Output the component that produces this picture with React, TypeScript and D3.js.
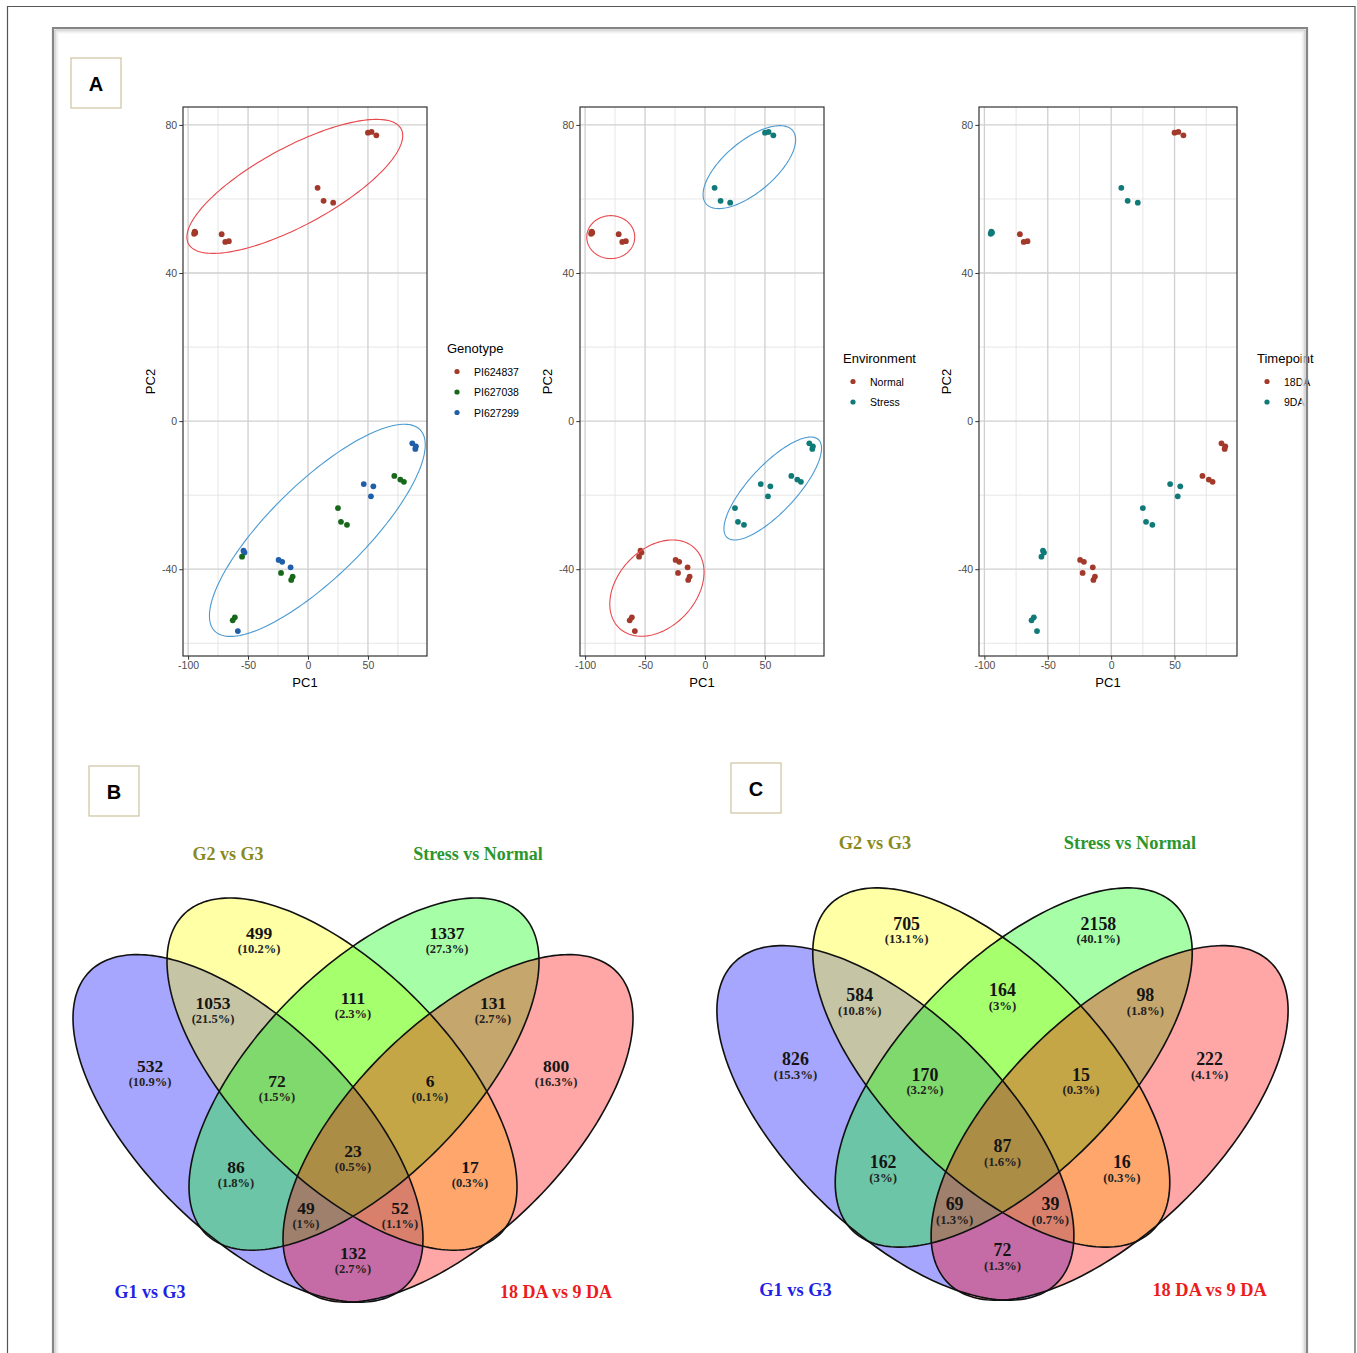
import * as d3 from 'd3';
import { useEffect, useRef } from 'react';

// PCA scores, 12 groups of 3 replicates
const pc1 = [
  -95, -94.5, -94, -72, -69, -66, 8, 13, 21, 50, 53, 57,
  87, 89.5, 90, 72, 77, 80, 46.5, 54.5, 52.5, 25, 27.5, 32.5,
  -24.5, -21.5, -14.5, -22.5, -14, -12.8, -53, -53.8, -58.5, -55, -62.8, -61,
];
const pc2 = [
  50.6, 51.2, 50.9, 50.5, 48.4, 48.6, 63, 59.5, 59, 77.9, 78.1, 77.2,
  -6, -7.5, -6.8, -14.8, -15.8, -16.4, -17, -17.6, -20.3, -23.5, -27.2, -28,
  -37.5, -38, -39.5, -41, -42.9, -42, -35.5, -35, -56.7, -36.6, -53.8, -53,
];
const groupGenotype = [
  'PI624837', 'PI624837', 'PI624837', 'PI624837', 'PI627299', 'PI627038',
  'PI627299', 'PI627038', 'PI627299', 'PI627038', 'PI627299', 'PI627038',
];
const groupEnvironment = [
  'Normal', 'Normal', 'Stress', 'Stress', 'Stress', 'Stress',
  'Stress', 'Stress', 'Normal', 'Normal', 'Normal', 'Normal',
];
const groupTimepoint = [
  '9DA', '18DA', '9DA', '18DA', '18DA', '18DA',
  '9DA', '9DA', '18DA', '18DA', '9DA', '9DA',
];

const genotypeLevels = ['PI624837', 'PI627038', 'PI627299'];
const environmentLevels = ['Normal', 'Stress'];
const timepointLevels = ['18DA', '9DA'];

// rings drawn over the score plots (data units: centre, half width, half height, tilt)
const genotypeRings = [
  { cx: -11, cy: 63.4, wx: 90, hy: 18.1, rho: 0.757, kind: 0 },
  { cx: 7.8, cy: -29.5, wx: 90, hy: 28.65, rho: 0.806, kind: 1 },
];
const environmentRings = [
  { cx: -78.6, cy: 49.7, wx: 20, hy: 5.8, rho: 0, kind: 0 },
  { cx: 37, cy: 68.6, wx: 38.6, hy: 11.2, rho: 0.66, kind: 1 },
  { cx: 56.5, cy: -18.2, wx: 40.7, hy: 13.9, rho: 0.78, kind: 1 },
  { cx: -40.1, cy: -45.1, wx: 39.3, hy: 13, rho: 0.33, kind: 0 },
];

// Venn regions (B = G1 vs G3, Y = G2 vs G3, G = Stress vs Normal, R = 18 DA vs 9 DA)
const vennSets = ['G1 vs G3', 'G2 vs G3', 'Stress vs Normal', '18 DA vs 9 DA'];
const vennRegions = ['Y', 'G', 'BY', 'YG', 'GR', 'B', 'BYG', 'YGR', 'R', 'BG', 'BYGR', 'YR', 'BGR', 'BYR', 'BR'];
const countsB = [499, 1337, 1053, 111, 131, 532, 72, 6, 800, 86, 23, 17, 49, 52, 132];
const percentB = [10.2, 27.3, 21.5, 2.3, 2.7, 10.9, 1.5, 0.1, 16.3, 1.8, 0.5, 0.3, 1, 1.1, 2.7];
const countsC = [705, 2158, 584, 164, 98, 826, 170, 15, 222, 162, 87, 16, 69, 39, 72];
const percentC = [13.1, 40.1, 10.8, 3, 1.8, 15.3, 3.2, 0.3, 4.1, 3, 1.6, 0.3, 1.3, 0.7, 1.3];

// ---- layout ----
const W = 1357;
const H = 1353;
const SANS = 'Liberation Sans, Arial, sans-serif';
const SERIF = 'Liberation Serif, Times New Roman, serif';

const regionPos: Record<string, [number, number]> = {
  Y: [259, 933], G: [447, 933], BY: [213, 1003], YG: [353, 998], GR: [493, 1003],
  B: [150, 1066], BYG: [277, 1081], YGR: [430, 1081], R: [556, 1066],
  BG: [236, 1167], BYGR: [353, 1151], YR: [470, 1167],
  BGR: [306, 1208], BYR: [400, 1208], BR: [353, 1253],
};
const vennShapes = [
  { cx: 248, cy: 1128.4, w: 175, h: 173.8, rho: 0.634 },
  { cx: 342, cy: 1074.1, w: 175, h: 176.1, rho: 0.64 },
  { cx: 364, cy: 1074.1, w: 175, h: 176.1, rho: -0.64 },
  { cx: 458, cy: 1128.4, w: 175, h: 173.8, rho: -0.634 },
];
const vennFills = ['#0000ff', '#ffff00', '#00ff00', '#ff0000'];
const vennTitlePos: [number, number][] = [[150, 1292], [228, 854], [478, 854], [556, 1292]];
const vennTitleColors = ['#1f1fe6', '#8a8a1c', '#2c962c', '#ec1c1c'];

const ringColors = ['#e8474c', '#4a9ad2'];

export default function App() {
  const svgRef = useRef<SVGSVGElement | null>(null);

  useEffect(() => {
    if (!svgRef.current) return;
    const svg = d3.select(svgRef.current);
    svg.selectAll('*').remove();
    svg.append('rect').attr('width', W).attr('height', H).attr('fill', '#fff');

    // ---------- PCA panels ----------
    const pad = (e: [number, number]) => {
      const d = (e[1] - e[0]) * 0.05;
      return [e[0] - d, e[1] + d];
    };
    const xDom = pad(d3.extent(pc1) as [number, number]);
    const yDom = pad(d3.extent(pc2) as [number, number]);
    const top = 107;
    const bottom = 656;
    const points = pc1.map((v, i) => ({ x: v, y: pc2[i], g: Math.floor(i / 3) }));

    const panels = [
      {
        left: 183, right: 427, field: groupGenotype, levels: genotypeLevels,
        colors: ['#a3392b', '#17681a', '#1f5ea8'], title: 'Genotype', lx: 447, ly: 348, rings: genotypeRings,
      },
      {
        left: 580, right: 824, field: groupEnvironment, levels: environmentLevels,
        colors: ['#a3392b', '#0f7a78'], title: 'Environment', lx: 843, ly: 358, rings: environmentRings,
      },
      {
        left: 979, right: 1237, field: groupTimepoint, levels: timepointLevels,
        colors: ['#a3392b', '#0f7a78'], title: 'Timepoint', lx: 1257, ly: 358, rings: [] as typeof genotypeRings,
      },
    ];

    panels.forEach((p) => {
      const x = d3.scaleLinear().domain(xDom).range([p.left, p.right]);
      const y = d3.scaleLinear().domain(yDom).range([bottom, top]);
      const color = d3.scaleOrdinal<string, string>().domain(p.levels).range(p.colors);
      const g = svg.append('g');

      g.append('rect')
        .attr('x', p.left).attr('y', top)
        .attr('width', p.right - p.left).attr('height', bottom - top)
        .attr('fill', '#fff');

      const minorX = [-75, -25, 25, 75];
      const minorY = [-60, -20, 20, 60];
      const majorX = [-100, -50, 0, 50];
      const majorY = [-40, 0, 40, 80];

      g.selectAll('.mx').data(minorX).enter().append('line')
        .attr('x1', (d) => x(d)).attr('x2', (d) => x(d))
        .attr('y1', top).attr('y2', bottom)
        .attr('stroke', '#e0e0e0').attr('stroke-width', 0.8);
      g.selectAll('.my').data(minorY).enter().append('line')
        .attr('x1', p.left).attr('x2', p.right)
        .attr('y1', (d) => y(d)).attr('y2', (d) => y(d))
        .attr('stroke', '#e0e0e0').attr('stroke-width', 0.8);
      g.selectAll('.Mx').data(majorX).enter().append('line')
        .attr('x1', (d) => x(d)).attr('x2', (d) => x(d))
        .attr('y1', top).attr('y2', bottom)
        .attr('stroke', '#cfcfcf').attr('stroke-width', 1.3);
      g.selectAll('.My').data(majorY).enter().append('line')
        .attr('x1', p.left).attr('x2', p.right)
        .attr('y1', (d) => y(d)).attr('y2', (d) => y(d))
        .attr('stroke', '#cfcfcf').attr('stroke-width', 1.3);

      g.selectAll('.pt').data(points).enter().append('circle')
        .attr('cx', (d) => x(d.x)).attr('cy', (d) => y(d.y))
        .attr('r', 2.9)
        .attr('fill', (d) => color(p.field[d.g]));

      p.rings.forEach((r) => {
        const pts = d3.range(0, 360, 2).map((a) => {
          const t = (a * Math.PI) / 180;
          return [
            x(r.cx + r.wx * Math.cos(t)),
            y(r.cy + r.hy * (r.rho * Math.cos(t) + Math.sqrt(1 - r.rho * r.rho) * Math.sin(t))),
          ] as [number, number];
        });
        g.append('path')
          .attr('d', d3.line().curve(d3.curveLinearClosed)(pts))
          .attr('fill', 'none')
          .attr('stroke', ringColors[r.kind])
          .attr('stroke-width', 1.1);
      });

      g.append('rect')
        .attr('x', p.left).attr('y', top)
        .attr('width', p.right - p.left).attr('height', bottom - top)
        .attr('fill', 'none').attr('stroke', '#333').attr('stroke-width', 1.2);

      const fmt = (d: d3.NumberValue) => String(d);
      const xAxis = g.append('g').attr('transform', `translate(0,${bottom})`)
        .call(d3.axisBottom(x).tickValues(majorX).tickFormat(fmt).tickSize(3.7).tickPadding(2.2));
      const yAxis = g.append('g').attr('transform', `translate(${p.left},0)`)
        .call(d3.axisLeft(y).tickValues(majorY).tickFormat(fmt).tickSize(3.7).tickPadding(2.2));
      [xAxis, yAxis].forEach((a) => {
        a.select('.domain').remove();
        a.selectAll('line').attr('stroke', '#333');
        a.selectAll('text')
          .attr('font-size', '10.5px').attr('font-family', SANS).attr('fill', '#4d4d4d');
      });

      g.append('text')
        .attr('x', (p.left + p.right) / 2).attr('y', 682)
        .attr('text-anchor', 'middle').attr('dominant-baseline', 'central')
        .attr('font-family', SANS).attr('font-size', '13px').text('PC1');
      g.append('text')
        .attr('transform', `translate(${p.left - 33},${(top + bottom) / 2}) rotate(-90)`)
        .attr('text-anchor', 'middle').attr('dominant-baseline', 'central')
        .attr('font-family', SANS).attr('font-size', '13px').text('PC2');

      const lg = g.append('g').attr('transform', `translate(${p.lx},${p.ly})`);
      lg.append('text')
        .attr('dominant-baseline', 'central')
        .attr('font-family', SANS).attr('font-size', '13px').text(p.title);
      p.levels.forEach((lv, i) => {
        lg.append('circle').attr('cx', 10).attr('cy', 23.5 + i * 20.5).attr('r', 2.6).attr('fill', color(lv));
        lg.append('text')
          .attr('x', 27).attr('y', 23.5 + i * 20.5)
          .attr('dominant-baseline', 'central')
          .attr('font-family', SANS).attr('font-size', '10.5px').text(lv);
      });
    });

    // ---------- Venn diagrams ----------
    const ellipseD = (s: { cx: number; cy: number; w: number; h: number; rho: number }) => {
      const pts = d3.range(0, 360, 1.5).map((a) => {
        const t = (a * Math.PI) / 180;
        return [
          s.cx + s.w * Math.cos(t),
          s.cy + s.h * (s.rho * Math.cos(t) + Math.sqrt(1 - s.rho * s.rho) * Math.sin(t)),
        ] as [number, number];
      });
      return d3.line().curve(d3.curveLinearClosed)(pts) as string;
    };

    const drawVenn = (counts: number[], percents: number[], transform: string) => {
      const g = svg.append('g').attr('transform', transform);
      vennShapes.forEach((s, i) => {
        g.append('path').attr('d', ellipseD(s)).attr('fill', vennFills[i]).attr('fill-opacity', 0.35);
      });
      vennShapes.forEach((s) => {
        g.append('path').attr('d', ellipseD(s)).attr('fill', 'none').attr('stroke', '#111').attr('stroke-width', 1.6);
      });
      vennRegions.forEach((r, i) => {
        const [px, py] = regionPos[r];
        g.append('text')
          .attr('x', px).attr('y', py)
          .attr('text-anchor', 'middle').attr('dominant-baseline', 'central')
          .attr('font-family', SERIF).attr('font-weight', 'bold').attr('font-size', '17.5px')
          .attr('fill', '#151515')
          .text(String(counts[i]));
        g.append('text')
          .attr('x', px).attr('y', py + 15.5)
          .attr('text-anchor', 'middle').attr('dominant-baseline', 'central')
          .attr('font-family', SERIF).attr('font-weight', 'bold').attr('font-size', '12.5px')
          .attr('fill', '#222')
          .text(`(${percents[i]}%)`);
      });
      vennSets.forEach((name, i) => {
        g.append('text')
          .attr('x', vennTitlePos[i][0]).attr('y', vennTitlePos[i][1])
          .attr('text-anchor', 'middle').attr('dominant-baseline', 'central')
          .attr('font-family', SERIF).attr('font-weight', 'bold').attr('font-size', '18px')
          .attr('fill', vennTitleColors[i])
          .text(name);
      });
    };
    drawVenn(countsB, percentB, '');
    drawVenn(countsC, percentC, 'translate(1002.5,1300) scale(1.02) translate(-353,-1302)');

    // ---------- panel tags ----------
    const tags: [string, number, number][] = [['A', 71, 58], ['B', 89, 766], ['C', 731, 763]];
    tags.forEach(([t, tx, ty]) => {
      svg.append('rect')
        .attr('x', tx).attr('y', ty).attr('width', 50).attr('height', 50)
        .attr('fill', '#fff').attr('stroke', '#cdc4a0').attr('stroke-width', 1.2);
      svg.append('text')
        .attr('x', tx + 25).attr('y', ty + 26)
        .attr('text-anchor', 'middle').attr('dominant-baseline', 'central')
        .attr('font-family', SANS).attr('font-weight', 'bold').attr('font-size', '20px')
        .text(t);
    });

    // ---------- frames ----------
    const shade = ['#bdbdbd', '#d6d6d6', '#e8e8e8', '#f3f3f3'];
    shade.forEach((c, i) => {
      const o = 2 + i;
      svg.append('path')
        .attr('d', `M${53 + o},${H + 10}V${28 + o}H${1307 - o}V${H + 10}`)
        .attr('fill', 'none').attr('stroke', c).attr('stroke-width', 1);
    });
    svg.append('path')
      .attr('d', `M53,${H + 10}V28H1307V${H + 10}`)
      .attr('fill', 'none').attr('stroke', '#858585').attr('stroke-width', 2.2);
    svg.append('path')
      .attr('d', `M7.5,${H + 10}V6.5H1355V${H + 10}`)
      .attr('fill', 'none').attr('stroke', '#555').attr('stroke-width', 1.2);
  }, []);

  return (
    <svg
      ref={svgRef}
      width={W}
      height={H}
      style={{ position: 'absolute', left: 0, top: 0, display: 'block' }}
    />
  );
}
